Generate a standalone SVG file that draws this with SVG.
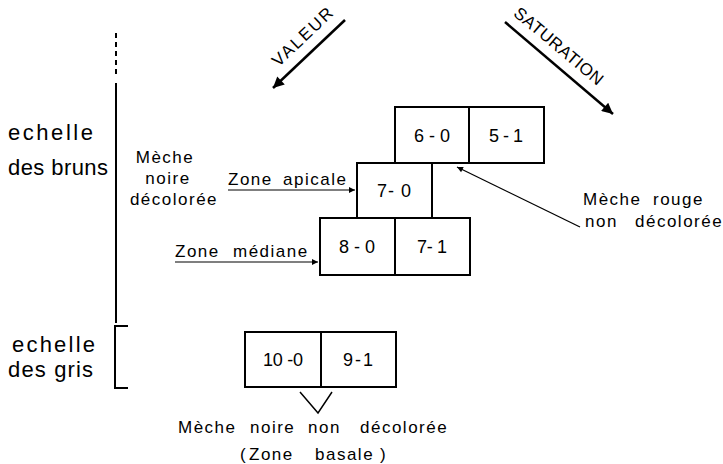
<svg xmlns="http://www.w3.org/2000/svg" width="723" height="464" viewBox="0 0 723 464">
<style>
text{font-family:"Liberation Sans","DejaVu Sans",sans-serif;fill:#000}
.big{font-size:22px}
.sm{font-size:17px;letter-spacing:1.5px}
.box{font-size:18px}
.ax{font-size:17px}
.b{fill:#fff;stroke:#000;stroke-width:2}
.ln{stroke:#000;fill:none}
</style>
<defs>
<marker id="ah" viewBox="0 0 10 10" refX="10" refY="5" markerWidth="8" markerHeight="6" orient="auto" markerUnits="userSpaceOnUse"><path d="M0,0 L10,5 L0,10 Z" fill="#000"/></marker>
<marker id="big" viewBox="0 0 10 10" refX="10" refY="5" markerWidth="18" markerHeight="11" orient="auto" markerUnits="userSpaceOnUse"><path d="M0,0 L10,5 L0,10 Z" fill="#000"/></marker>
</defs>
<g id="scales">
<line class="ln" x1="116" y1="33" x2="116" y2="78" stroke-width="2" stroke-dasharray="5,4"/>
<line class="ln" x1="116" y1="83" x2="116" y2="323" stroke-width="2"/>
<path class="ln" d="M128,326 H115 V388 H128" stroke-width="2"/>
<text class="big" x="8" y="140" textLength="85">echelle</text>
<text class="big" x="8" y="175" textLength="100">des bruns</text>
<text class="big" x="12" y="352" textLength="83">echelle</text>
<text class="big" x="8" y="377" textLength="85">des gris</text>
</g>
<g id="axes">
<line class="ln" x1="345" y1="20" x2="273" y2="88" stroke-width="2.5" marker-end="url(#big)"/>
<text class="ax" transform="translate(303,36) rotate(-43.4)" x="0" y="6" text-anchor="middle" letter-spacing="2">VALEUR</text>
<line class="ln" x1="505" y1="22" x2="613" y2="114" stroke-width="2.5" marker-end="url(#big)"/>
<text class="ax" transform="translate(559,46) rotate(40)" x="0" y="6" text-anchor="middle" letter-spacing="0.4">SATURATION</text>
</g>
<g id="n60"><rect class="b" x="395" y="107" width="74" height="56"/><text class="box" x="432" y="142" text-anchor="middle" textLength="36" lengthAdjust="spacing">6-0</text></g>
<g id="n51"><rect class="b" x="469" y="107" width="75" height="56"/><text class="box" x="506" y="142" text-anchor="middle" textLength="34" lengthAdjust="spacing">5 - 1</text></g>
<g id="n70"><rect class="b" x="357" y="163" width="75" height="55"/><text class="box" x="394" y="197" text-anchor="middle" textLength="34" lengthAdjust="spacing">7- 0</text></g>
<g id="n80"><rect class="b" x="320" y="218" width="75" height="57"/><text class="box" x="357" y="253" text-anchor="middle" textLength="36" lengthAdjust="spacing">8-0</text></g>
<g id="n71"><rect class="b" x="395" y="218" width="75" height="57"/><text class="box" x="432" y="253" text-anchor="middle" textLength="30" lengthAdjust="spacing">7- 1</text></g>
<g id="n100"><rect class="b" x="245" y="332" width="76" height="55"/><text class="box" x="283" y="366" text-anchor="middle" textLength="40" lengthAdjust="spacing">10 -0</text></g>
<g id="n91"><rect class="b" x="321" y="332" width="75" height="55"/><text class="box" x="358" y="366" text-anchor="middle" textLength="30" lengthAdjust="spacing">9 - 1</text></g>
<g id="connectors">
<line class="ln" x1="228" y1="190" x2="355" y2="190" stroke-width="1.2" marker-end="url(#ah)"/>
<line class="ln" x1="175" y1="262" x2="318" y2="262" stroke-width="1.2" marker-end="url(#ah)"/>
<line class="ln" x1="580" y1="227" x2="457" y2="167" stroke-width="1.3" marker-end="url(#ah)"/>
<path class="ln" d="M300,392 L318,413 L332,392" stroke-width="1.5"/>
</g>
<g id="labels">
<text class="sm" x="165" y="163" text-anchor="middle">Mèche</text>
<text class="sm" x="168" y="184" text-anchor="middle">noire</text>
<text class="sm" x="174" y="205" text-anchor="middle">décolorée</text>
<text class="sm" y="185"><tspan x="228">Zone</tspan><tspan x="283">apicale</tspan></text>
<text class="sm" y="257"><tspan x="175">Zone</tspan><tspan x="233">médiane</tspan></text>
<text class="sm" y="205"><tspan x="583">Mèche</tspan><tspan x="653">rouge</tspan></text>
<text class="sm" y="227" letter-spacing="1.2"><tspan x="585">non</tspan><tspan x="635">décolorée</tspan></text>
<text class="sm" y="433"><tspan x="178">Mèche</tspan><tspan x="250">noire</tspan><tspan x="308">non</tspan><tspan x="360">décolorée</tspan></text>
<text class="sm" y="460"><tspan x="240">(</tspan><tspan x="249">Zone</tspan><tspan x="315">basale</tspan><tspan x="380">)</tspan></text>
</g>
</svg>
